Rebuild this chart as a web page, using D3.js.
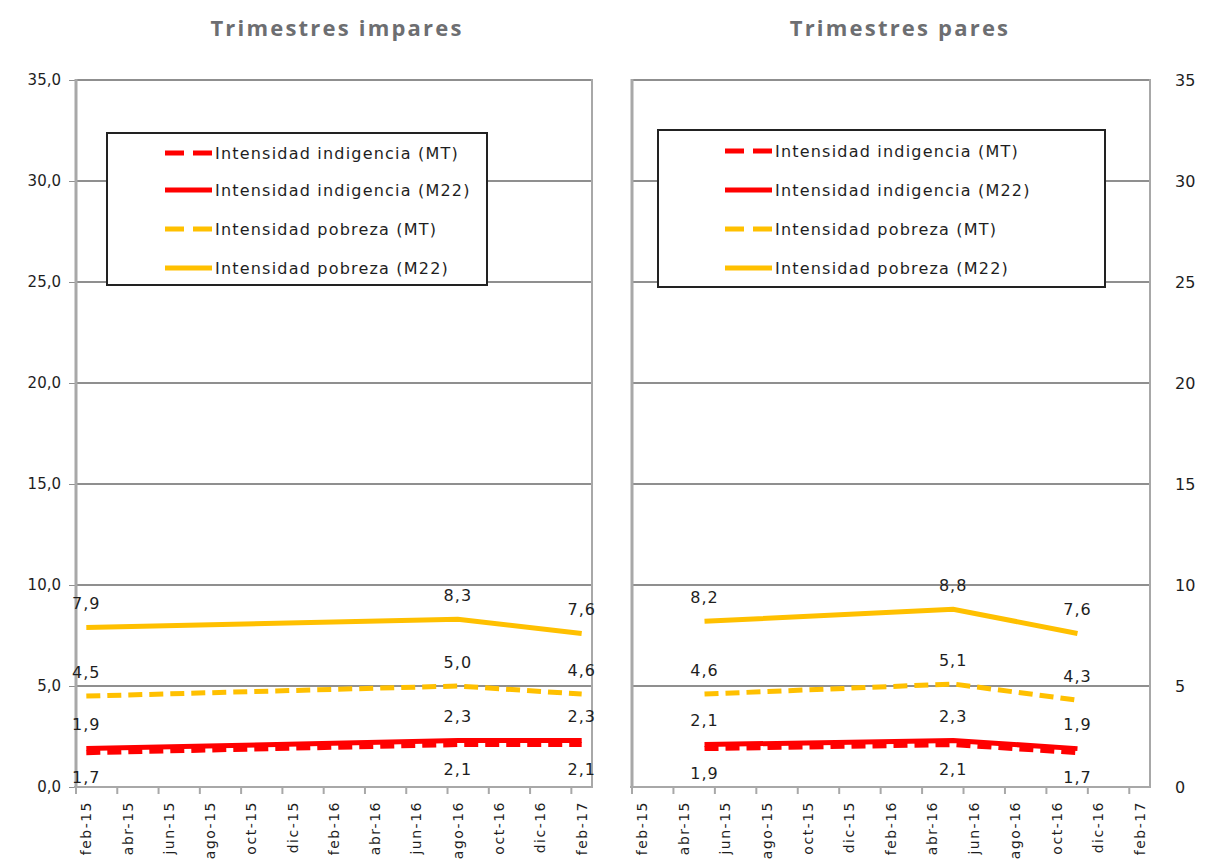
<!DOCTYPE html>
<html>
<head>
<meta charset="utf-8">
<script src="https://cdn.jsdelivr.net/npm/d3@7"></script>
<style>
  body { margin: 0; background: #fff; }
  svg { display: block; }
</style>
</head>
<body>
<svg width="1206" height="864"></svg>
<script>
// tick labels of the x axis (every two months)
const tickLabels = ["feb-15", "abr-15", "jun-15", "ago-15", "oct-15", "dic-15", "feb-16",
    "abr-16", "jun-16", "ago-16", "oct-16", "dic-16", "feb-17"]
const yTicks = [0, 5, 10, 15, 20, 25, 30, 35]

// odd quarters
const imparesPeriods = ["2015-02", "2016-08", "2017-02"]
const impIndigMT = [1.7, 2.1, 2.1]
const impIndigM22 = [1.9, 2.3, 2.3]
const impPobMT = [4.5, 5.0, 4.6]
const impPobM22 = [7.9, 8.3, 7.6]

// even quarters
const paresPeriods = ["2015-05", "2016-05", "2016-11"]
const parIndigMT = [1.9, 2.1, 1.7]
const parIndigM22 = [2.1, 2.3, 1.9]
const parPobMT = [4.6, 5.1, 4.3]
const parPobM22 = [8.2, 8.8, 7.6]

const seriesNames = ["Intensidad indigencia (MT)", "Intensidad indigencia (M22)",
    "Intensidad pobreza (MT)", "Intensidad pobreza (M22)"]

const red = "#ff0000"
const gold = "#ffc000"
const gridColor = "#8f8f8f"
const axisColor = "#a8a8a8"
const textColor = "#1e1e1e"

const fmtMonth = d3.timeFormat("%Y-%m")
const months = d3.timeMonth.range(new Date(2015, 1, 1), new Date(2017, 2, 1)).map(fmtMonth)
const comma = v => d3.format(".1f")(v).replace(".", ",")

const plotTop = 80, plotBottom = 787

const svg = d3.select("svg")
svg.append("rect").attr("width", 1206).attr("height", 864).attr("fill", "#fff")

const y = d3.scaleLinear().domain([0, 35]).range([plotBottom, plotTop])

function drawPanel(cfg) {
    const x = d3.scaleBand().domain(months).range([cfg.x0, cfg.x1])
    const cx = m => x(m) + x.bandwidth() / 2
    const g = svg.append("g")

    // title
    g.append("text")
        .attr("x", cfg.titleX).attr("y", 36)
        .attr("text-anchor", "middle")
        .style("font-family", "'Open Sans', sans-serif")
        .style("font-weight", 700)
        .style("font-size", "22px")
        .style("letter-spacing", "2.2px")
        .attr("fill", "#6d6e71")
        .text(cfg.title)

    // grid lines
    g.selectAll(".grid").data(yTicks.filter(d => d > 0)).enter()
        .append("line")
        .attr("x1", cfg.x0).attr("x2", cfg.x1)
        .attr("y1", d => y(d)).attr("y2", d => y(d))
        .attr("stroke", gridColor).attr("stroke-width", 2)

    // y axis
    if (cfg.side === "left") {
        const ax = g.append("g")
            .attr("transform", "translate(" + cfg.x0 + ",0)")
            .call(d3.axisLeft(y).tickValues(yTicks).tickSize(7).tickPadding(8).tickFormat(comma))
        ax.select(".domain").remove()
        ax.selectAll("line").attr("stroke", gridColor)
        ax.selectAll("text")
            .style("font-family", "'DejaVu Sans', sans-serif")
            .style("font-size", "15px")
            .attr("fill", textColor)
    } else {
        const ax = g.append("g")
            .attr("transform", "translate(" + cfg.x1 + ",0)")
            .call(d3.axisRight(y).tickValues(yTicks).tickSize(0).tickPadding(25).tickFormat(d3.format("d")))
        ax.select(".domain").remove()
        ax.selectAll("text")
            .style("font-family", "'DejaVu Sans', sans-serif")
            .style("font-size", "16px")
            .attr("fill", textColor)
    }

    // plot frame
    g.append("line").attr("x1", cfg.x0).attr("x2", cfg.x0).attr("y1", plotTop - 1).attr("y2", plotBottom)
        .attr("stroke", axisColor).attr("stroke-width", 3)
    g.append("line").attr("x1", cfg.x1).attr("x2", cfg.x1).attr("y1", plotTop - 1).attr("y2", plotBottom)
        .attr("stroke", axisColor).attr("stroke-width", 2)
    g.append("line").attr("x1", cfg.x0 - 2).attr("x2", cfg.x1 + 1).attr("y1", plotBottom).attr("y2", plotBottom)
        .attr("stroke", axisColor).attr("stroke-width", 2)

    // x ticks and labels
    const tickMonths = months.filter((m, i) => i % 2 === 0)
    g.selectAll(".xtick").data(tickMonths).enter()
        .append("line")
        .attr("x1", d => x(d)).attr("x2", d => x(d))
        .attr("y1", plotBottom).attr("y2", plotBottom + 7)
        .attr("stroke", axisColor).attr("stroke-width", 2)
    g.selectAll(".xlab").data(tickMonths).enter()
        .append("text")
        .attr("transform", d => "translate(" + cx(d) + "," + (plotBottom + 14) + ") rotate(-90)")
        .attr("dy", "0.35em")
        .attr("text-anchor", "end")
        .style("font-family", "'DejaVu Sans', sans-serif")
        .style("font-size", "14px")
        .style("letter-spacing", "1.5px")
        .attr("fill", textColor)
        .text((d, i) => tickLabels[i])

    // series
    const series = [
        { vals: cfg.indigMT, color: red, dash: "14,7", pos: "below" },
        { vals: cfg.indigM22, color: red, dash: null, pos: "above" },
        { vals: cfg.pobMT, color: gold, dash: "14,7", pos: "above" },
        { vals: cfg.pobM22, color: gold, dash: null, pos: "above" }
    ]
    const line = d3.line().x(d => cx(d.p)).y(d => y(d.v))
    series.forEach(s => {
        const pts = s.vals.map((v, i) => ({ p: cfg.periods[i], v: v }))
        g.append("path")
            .datum(pts)
            .attr("d", line)
            .attr("fill", "none")
            .attr("stroke", s.color)
            .attr("stroke-width", 5)
            .attr("stroke-dasharray", s.dash)
        g.selectAll(null).data(pts).enter()
            .append("text")
            .attr("x", d => cx(d.p))
            .attr("y", d => y(d.v) + (s.pos === "above" ? -24 : 25))
            .attr("dy", "0.35em")
            .attr("text-anchor", "middle")
            .style("font-family", "'DejaVu Sans', sans-serif")
            .style("font-size", "16px")
            .style("letter-spacing", "1px")
            .attr("fill", textColor)
            .text(d => comma(d.v))
    })

    // legend
    const lg = cfg.legend
    g.append("rect")
        .attr("x", lg.x).attr("y", lg.y).attr("width", lg.w).attr("height", lg.h)
        .attr("fill", "#fff").attr("stroke", "#222").attr("stroke-width", 2)
    series.forEach((s, i) => {
        const ry = lg.rows[i]
        g.append("line")
            .attr("x1", lg.sx).attr("x2", lg.sx + 47)
            .attr("y1", ry).attr("y2", ry)
            .attr("stroke", s.color).attr("stroke-width", 5)
            .attr("stroke-dasharray", s.dash ? "19,9" : null)
        g.append("text")
            .attr("x", lg.sx + 50).attr("y", ry)
            .attr("dy", "0.35em")
            .style("font-family", "'DejaVu Sans', sans-serif")
            .style("font-size", "16px")
            .style("letter-spacing", "1.2px")
            .attr("fill", textColor)
            .text(seriesNames[i])
    })
}

drawPanel({
    x0: 76, x1: 592, side: "left", title: "Trimestres impares", titleX: 337,
    periods: imparesPeriods, indigMT: impIndigMT, indigM22: impIndigM22, pobMT: impPobMT, pobM22: impPobM22,
    legend: { x: 107, y: 133, w: 380, h: 152, sx: 165, rows: [153, 190, 229, 268] }
})

drawPanel({
    x0: 632, x1: 1150, side: "right", title: "Trimestres pares", titleX: 900,
    periods: paresPeriods, indigMT: parIndigMT, indigM22: parIndigM22, pobMT: parPobMT, pobM22: parPobM22,
    legend: { x: 658, y: 130, w: 447, h: 157, sx: 725, rows: [151, 190, 229, 268] }
})
</script>
</body>
</html>
